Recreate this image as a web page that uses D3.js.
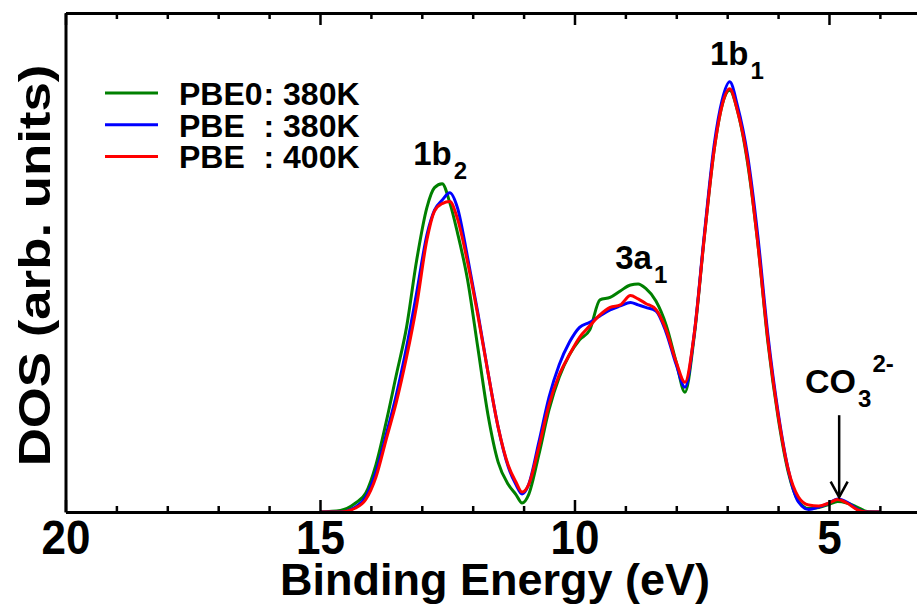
<!DOCTYPE html>
<html lang="en">
<head>
<meta charset="UTF-8">
<title>DOS vs Binding Energy</title>
<script src="https://d3js.org/d3.v7.min.js"></script>
<style>
  body { margin: 0; background: #fff; }
  text { font-family: "Liberation Sans", Arial, Helvetica, sans-serif; font-weight: bold; fill: #000; }
</style>
</head>
<body>
<div id="chart"></div>
<script>
// binding energies (eV) where the curves were read
const energies = [15.0, 14.6, 14.3, 14.1, 13.9, 13.7, 13.5, 13.3, 13.1, 12.9,
  12.75, 12.6, 12.45, 12.3, 12.1, 11.9, 11.7, 11.5, 11.3, 11.15,
  11.03, 10.9, 10.7, 10.5, 10.3, 10.1, 9.9, 9.7, 9.5, 9.3,
  9.1, 8.9, 8.75, 8.6, 8.4, 8.2, 8.0, 7.83, 7.65, 7.45,
  7.25, 7.1, 6.95, 6.8, 6.6, 6.4, 6.2, 6.0, 5.8, 5.6,
  5.4, 5.2, 5.0, 4.83, 4.65, 4.45, 4.25, 4.0];

// DOS (arb. units) per series
const pbe0_380 = [0, 0.3, 1.8, 3.8, 9.5, 18, 27.5, 37, 50.5, 61,
  65, 65.8, 62, 56, 46.5, 33, 19.5, 10, 5.5, 3.5,
  1.8, 3.5, 11.5, 20.5, 27, 31.5, 34.5, 36.5, 42.5, 43,
  44.3, 45.5, 45.7, 44.8, 42.3, 37.5, 30, 24, 35, 55,
  73, 81.5, 84.5, 80.5, 70, 54, 34, 19, 8, 2.2,
  0.7, 0.9, 1.5, 2.1, 1.8, 1.0, 0.1, 0];

const pbe_380 = [0, 0, 1.0, 3, 8, 15.5, 23.5, 33, 44, 55.5,
  60.5, 62.5, 64, 61, 51, 40, 28, 17, 9, 5.5,
  3.6, 5.5, 14, 23, 29.5, 34, 37, 38, 39.3, 40.5,
  41.3, 42, 41.5, 41, 40.3, 36, 29.5, 25, 35.5, 55.5,
  74, 82.5, 86.2, 81.5, 71.5, 55.5, 35.5, 20, 8.5, 2,
  0.5, 1, 1.8, 2.6, 2.0, 0.6, 0, 0];

const pbe_400 = [0, 0, 0.8, 2.5, 7, 14.5, 22, 31, 41.5, 54.5,
  60.3, 61.8, 62.2, 58.8, 50, 39.5, 28, 17, 9.3, 6,
  4, 5.5, 13, 21.5, 27.5, 31.5, 35, 37.3, 39.5, 41,
  41.5, 43.4, 42.7, 41.8, 40.6, 36.5, 30, 26, 35.5, 55,
  73, 81.5, 84.8, 80.5, 70.5, 54, 34.5, 19.5, 8.5, 3,
  1.4, 1.2, 1.8, 2.5, 1.8, 0.5, 0, 0];

const seriesNames = ["PBE0", "PBE", "PBE"];
const seriesTemps = ["380K", "380K", "400K"];
const seriesColors = ["#008000", "#0000ff", "#ff0000"];
const seriesValues = [pbe0_380, pbe_380, pbe_400];

const majorTicks = [20, 15, 10, 5];
const minorTicks = [19, 18, 17, 16, 14, 13, 12, 11, 9, 8, 7, 6, 4];

const W = 917, H = 606;
const margin = {top: 13, left: 65.5, bottom: 94};

const svg = d3.select("#chart").append("svg")
  .attr("width", W).attr("height", H);

// x runs from 20 eV on the left down to ~3.2 eV beyond the right edge
const x = d3.scaleLinear().domain([20, 3.2]).range([margin.left, 920.6]);
const y = d3.scaleLinear().domain([0, 100]).range([H - margin.bottom, margin.top]);

// curves
const line = d3.line()
  .curve(d3.curveMonotoneX)
  .x((d, i) => x(energies[i]))
  .y(d => y(d));

svg.append("g").selectAll("path")
  .data(seriesValues)
  .join("path")
    .attr("fill", "none")
    .attr("stroke", (d, i) => seriesColors[i])
    .attr("stroke-width", 3)
    .attr("stroke-linejoin", "round")
    .attr("d", line);

// bottom axis: major ticks with labels, minor ticks
const bottomMajor = svg.append("g")
  .attr("transform", `translate(0,${y(0)})`)
  .call(d3.axisBottom(x).tickValues(majorTicks).tickFormat(d3.format("d")).tickSize(-12).tickSizeOuter(0));
bottomMajor.select(".domain").attr("stroke-width", 3);
bottomMajor.selectAll(".tick line").attr("stroke-width", 2.5);
bottomMajor.selectAll(".tick text")
  .attr("y", 0).attr("dy", 0)
  .attr("transform", "translate(0,42) scale(1,1.1)")
  .style("font-size", "44px");

svg.append("g")
  .attr("transform", `translate(0,${y(0)})`)
  .call(d3.axisBottom(x).tickValues(minorTicks).tickFormat("").tickSize(-6).tickSizeOuter(0))
  .call(g => g.select(".domain").remove())
  .selectAll(".tick line").attr("stroke-width", 2.5);

// top axis, ticks pointing inward
const topMajor = svg.append("g")
  .attr("transform", `translate(0,${y(100)})`)
  .call(d3.axisTop(x).tickValues(majorTicks).tickFormat("").tickSize(-12).tickSizeOuter(0));
topMajor.select(".domain").attr("stroke-width", 3);
topMajor.selectAll(".tick line").attr("stroke-width", 2.5);

svg.append("g")
  .attr("transform", `translate(0,${y(100)})`)
  .call(d3.axisTop(x).tickValues(minorTicks).tickFormat("").tickSize(-6).tickSizeOuter(0))
  .call(g => g.select(".domain").remove())
  .selectAll(".tick line").attr("stroke-width", 2.5);

// left frame
svg.append("g")
  .attr("transform", `translate(${margin.left},0)`)
  .call(d3.axisLeft(y).tickValues([]).tickSizeOuter(0))
  .select(".domain").attr("stroke-width", 3);

// axis titles
svg.append("text")
  .attr("x", 495)
  .attr("y", 595)
  .attr("text-anchor", "middle")
  .style("font-size", "45px")
  .text("Binding Energy (eV)");

svg.append("text")
  .attr("transform", `translate(50,${(y(0) + y(100)) / 2 + 3}) rotate(-90) scale(1.2,1)`)
  .attr("text-anchor", "middle")
  .style("font-size", "44px")
  .text("DOS (arb. units)");

// legend
const legend = svg.append("g");
const rows = legend.selectAll("g")
  .data(seriesNames)
  .join("g")
    .attr("transform", (d, i) => `translate(105,${93 + i * 31.7})`);
rows.append("line")
  .attr("x1", 0).attr("x2", 53)
  .attr("stroke", (d, i) => seriesColors[i])
  .attr("stroke-width", 3);
rows.append("text")
  .attr("x", 74).attr("y", 12)
  .style("font-size", "32px")
  .text(d => d);
rows.append("text")
  .attr("x", 158.5).attr("y", 12)
  .style("font-size", "32px")
  .text((d, i) => ": " + seriesTemps[i]);

// peak labels
function peakLabel(e, v, main, sub, size) {
  const t = svg.append("text")
    .attr("x", x(e)).attr("y", y(v))
    .style("font-size", size + "px");
  t.append("tspan").text(main);
  t.append("tspan").attr("dx", 2).attr("dy", 14).style("font-size", "24px").text(sub);
  return t;
}
peakLabel(13.17, 69.5, "1b", "2", 33);
peakLabel(9.20, 48.7, "3a", "1", 33);
peakLabel(7.34, 89.6, "1b", "1", 33);
const co3 = peakLabel(5.47, 23.8, "CO", "3", 34);
co3.append("tspan").attr("dx", 1).attr("dy", -35).style("font-size", "24px").text("2-");

// arrow to the carbonate feature
const arrowE = 4.8;
svg.append("line")
  .attr("x1", x(arrowE)).attr("x2", x(arrowE))
  .attr("y1", y(19.4)).attr("y2", y(3.0))
  .attr("stroke", "#000").attr("stroke-width", 2.5);
svg.append("path")
  .attr("d", `M${x(arrowE) - 8.5},${y(3.0) - 15.5} L${x(arrowE)},${y(3.0)} L${x(arrowE) + 8.5},${y(3.0) - 15.5}`)
  .attr("fill", "none")
  .attr("stroke", "#000").attr("stroke-width", 2.5);
</script>
</body>
</html>
